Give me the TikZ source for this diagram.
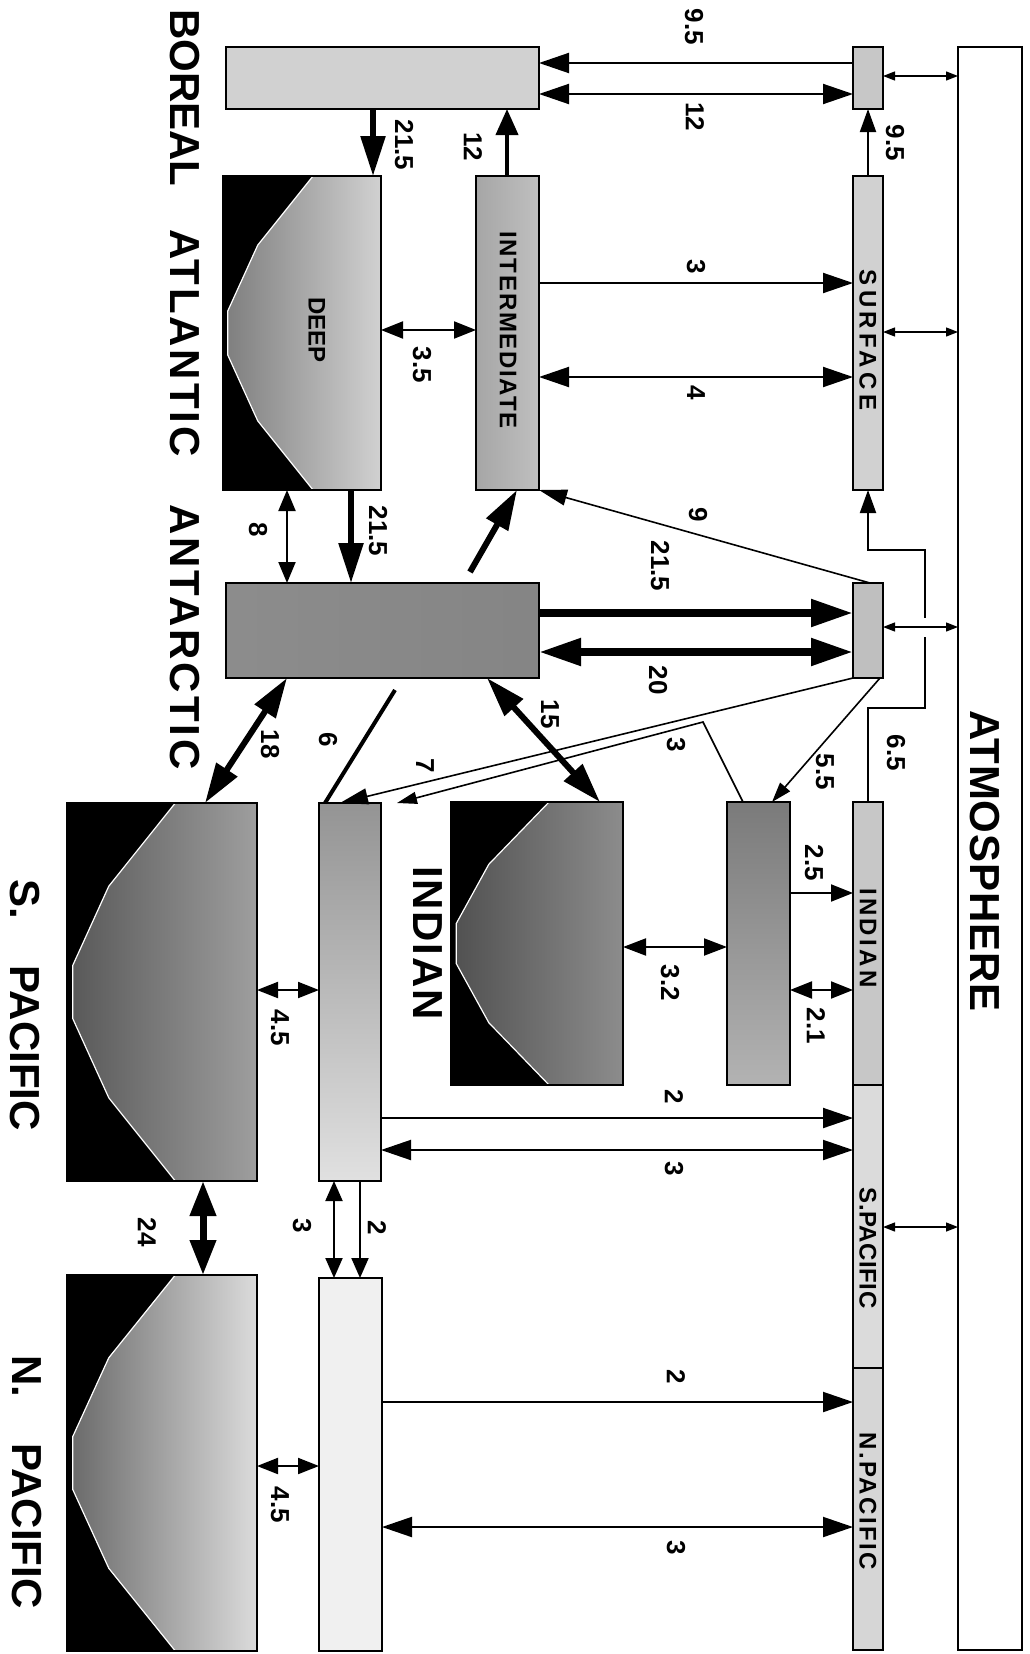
\documentclass[tikz,border=0pt]{standalone}
\usepackage{fontspec}
\setmainfont{Liberation Sans}
\usetikzlibrary{arrows.meta}
\tikzset{
  boxframe/.style={draw=black,line width=2.2pt,inner sep=0pt,outer sep=0pt,rectangle},
  numlab/.style={rotate=-90,inner sep=0pt,font=\fontsize{26}{26}\selectfont\bfseries},
  boxlab/.style={rotate=-90,inner sep=0pt,font=\fontsize{24}{24}\selectfont\bfseries},
  biglab/.style={rotate=-90,inner sep=0pt,font=\fontsize{42}{42}\selectfont\bfseries},
  fl/.style n args={3}{line width=#1,-{Triangle[length=#2,width=#3]}},
  dfl/.style n args={3}{line width=#1,{Triangle[length=#2,width=#3]}-{Triangle[length=#2,width=#3]}},
  atmo/.style={line width=1.3pt,{Triangle[length=12pt,width=9pt]}-{Triangle[length=12pt,width=9pt]}},
}
\newcommand\plainbox[6]{\node[boxframe,minimum width={#4-#2},minimum height={#5-#3},#6] (#1) at ({(#2+#4)/2},{(#3+#5)/2}) {};}
\newcommand\deepbox[7]{%
  \fill[black] (#2,#3) rectangle (#4,#5);
  \shadedraw[left color=#6,right color=#7,draw=white,line width=1.2pt]
    ({#2+0.57*(#4-#2)},#3) -- ({#2+0.22*(#4-#2)},{#3+0.22*(#5-#3)}) --
    ({#2+0.03*(#4-#2)},{#3+0.43*(#5-#3)}) -- ({#2+0.03*(#4-#2)},{#3+0.57*(#5-#3)}) --
    ({#2+0.22*(#4-#2)},{#3+0.78*(#5-#3)}) -- ({#2+0.57*(#4-#2)},#5) -- (#4,#5) -- (#4,#3) -- cycle;
  \node[boxframe,minimum width={#4-#2},minimum height={#5-#3}] (#1) at ({(#2+#4)/2},{(#3+#5)/2}) {};}
\begin{document}
\begin{tikzpicture}[x=1pt,y=-1pt]
\useasboundingbox (0,0) rectangle (1029,1654);
\fill[white] (0,0) rectangle (1029,1654);
% ---------- boxes ----------
\plainbox{atm}{958}{47}{1022}{1650}{fill=white}
\plainbox{bor}{226}{47}{539}{109}{fill=black!18}
\plainbox{sbo}{853}{47}{883}{109}{fill=black!22}
\plainbox{sur}{853}{176}{883}{490}{fill=black!18}
\plainbox{int}{476}{176}{539}{490}{left color=black!35,right color=black!25}
\deepbox{deepA}{223}{176}{381}{490}{black!50}{black!18}
\plainbox{ant}{226}{583}{539}{678}{left color=black!45,middle color=black!28,right color=black!48}
\plainbox{sant}{853}{583}{883}{678}{fill=black!25}
\plainbox{isurf}{853}{802}{883}{1085}{fill=black!22}
\plainbox{spsurf}{853}{1085}{883}{1368}{fill=black!14}
\plainbox{npsurf}{853}{1368}{883}{1650}{fill=black!16}
\plainbox{indint}{727}{802}{790}{1085}{top color=black!52,bottom color=black!30}
\deepbox{inddeep}{451}{802}{623}{1085}{black!68}{black!45}
\plainbox{spint}{319}{803}{381}{1181}{top color=black!42,bottom color=black!12}
\deepbox{spdeep}{67}{803}{257}{1181}{black!65}{black!38}
\plainbox{npint}{319}{1278}{382}{1651}{fill=black!6}
\deepbox{npdeep}{67}{1275}{257}{1651}{black!58}{black!14}
% ---------- box labels ----------
\node[boxlab,font=\fontsize{24}{24}\selectfont\bfseries\addfontfeature{LetterSpace=18}] (tsur) at (868,340) {SURFACE};
\node[boxlab,font=\fontsize{24}{24}\selectfont\bfseries\addfontfeature{LetterSpace=7}] (tint) at (508,330) {INTERMEDIATE};
\node[boxlab] (tdeep) at (317,330) {DEEP};
\node[boxlab,font=\fontsize{24}{24}\selectfont\bfseries\addfontfeature{LetterSpace=14}] (tisurf) at (868,938) {INDIAN};
\node[boxlab,font=\fontsize{24}{24}\selectfont\bfseries\addfontfeature{LetterSpace=2}] (tspsurf) at (868,1248) {S.PACIFIC};
\node[boxlab,font=\fontsize{24}{24}\selectfont\bfseries\addfontfeature{LetterSpace=10}] (tnpsurf) at (868,1501) {N.PACIFIC};
% ---------- big labels ----------
\node[biglab,font=\fontsize{42}{42}\selectfont\bfseries\addfontfeature{LetterSpace=2}] (tatm) at (985,861) {ATMOSPHERE};
\node[biglab] (tbor) at (185,98) {BOREAL};
\node[biglab,font=\fontsize{42}{42}\selectfont\bfseries\addfontfeature{LetterSpace=7}] (tatl) at (185,343) {ATLANTIC};
\node[biglab,font=\fontsize{42}{42}\selectfont\bfseries\addfontfeature{LetterSpace=7}] (tantl) at (185,637) {ANTARCTIC};
\node[biglab,font=\fontsize{42}{42}\selectfont\bfseries\addfontfeature{LetterSpace=4}] (tind) at (428,943) {INDIAN};
\node[biglab] (tspac) at (25,1005) {S.\hspace{47pt}PACIFIC};
\node[biglab] (tnpac) at (27,1482) {N.\hspace{46pt}PACIFIC};
% ---------- Boreal / Atlantic connectors ----------
\draw[fl={2pt}{30pt}{20pt}] (sbo.west |- 0,63) -- (bor.east |- 0,63);
\draw[dfl={2pt}{30pt}{20pt}] (bor.east |- 0,94) -- (sbo.west |- 0,94);
\draw[atmo] (sbo.east |- 0,76) -- (atm.west |- 0,76);
\draw[fl={2pt}{23pt}{16pt}] (sur.north -| 868,0) -- (sbo.south -| 868,0);
\draw[fl={4pt}{26pt}{22pt}] (int.north -| 507,0) -- (bor.south -| 507,0);
\draw[fl={5.5pt}{40pt}{24pt}] (bor.south -| 373,0) -- (deepA.north -| 373,0);
\draw[fl={2pt}{30pt}{20pt}] (int.east |- 0,283) -- (sur.west |- 0,283);
\draw[dfl={2pt}{30pt}{20pt}] (int.east |- 0,377) -- (sur.west |- 0,377);
\draw[atmo] (sur.east |- 0,332) -- (atm.west |- 0,332);
\draw[dfl={2pt}{22pt}{17pt}] (deepA.east |- 0,330) -- (int.west |- 0,330);
% ---------- Antarctic connectors ----------
\draw[dfl={2pt}{21pt}{17pt}] (deepA.south -| 287,0) -- (ant.north -| 287,0);
\draw[fl={5.5pt}{40pt}{24pt}] (deepA.south -| 351,0) -- (ant.north -| 351,0);
\coordinate (antup) at (470,572);
\draw[fl={6pt}{40pt}{24pt}] (antup) -- (int.south -| 517,0);
\draw[fl={8pt}{42pt}{26pt}] (ant.east |- 0,613) -- (sant.west |- 0,613);
\draw[dfl={8pt}{42pt}{26pt}] (ant.east |- 0,652) -- (sant.west |- 0,652);
\draw[fl={1.6pt}{28pt}{16pt}] (sant.north -| 870,0) -- (int.south east);
\draw[fl={2pt}{23pt}{16pt}] (isurf.north -| 868,0) -- (868,708) -- (925,708) -- (925,550) -- (868,550) -- (sur.south -| 868,0);
\fill[white] (920,618) rectangle (930,637);
\draw[atmo] (sant.east |- 0,627) -- (atm.west |- 0,627);
\draw[fl={1.6pt}{20pt}{13pt}] (sant.south -| 880,0) -- (indint.north -| 772,0);
\draw[fl={1.6pt}{28pt}{16pt}] (sant.south west) -- (spint.north -| 340,0);
\draw[fl={1.6pt}{20pt}{12pt}] (indint.north -| 743,0) -- (703,722) -- (spint.north -| 397,0);
\draw[dfl={6pt}{40pt}{24pt}] (ant.south -| 487,0) -- (inddeep.north -| 600,0);
\draw[dfl={6pt}{40pt}{24pt}] (ant.south -| 287,0) -- (spdeep.north -| 205,0);
\coordinate (sixst) at (395,690);
\draw[line width=4pt] (sixst) -- (spint.north -| 325,0);
% ---------- Indian connectors ----------
\draw[dfl={2pt}{23pt}{17pt}] (inddeep.east |- 0,947) -- (indint.west |- 0,947);
\draw[fl={2pt}{22pt}{17pt}] (indint.east |- 0,893) -- (isurf.west |- 0,893);
\draw[dfl={2pt}{22pt}{17pt}] (indint.east |- 0,990) -- (isurf.west |- 0,990);
\draw[atmo] (spsurf.east |- 0,1227) -- (atm.west |- 0,1227);
% ---------- Pacific connectors ----------
\draw[dfl={2pt}{21pt}{16pt}] (spdeep.east |- 0,990) -- (spint.west |- 0,990);
\draw[fl={2pt}{30pt}{20pt}] (spint.east |- 0,1118) -- (spsurf.west |- 0,1118);
\draw[dfl={2pt}{30pt}{20pt}] (spint.east |- 0,1150) -- (spsurf.west |- 0,1150);
\draw[dfl={7pt}{35pt}{25pt}] (spdeep.south -| 203,0) -- (npdeep.north -| 203,0);
\draw[dfl={2pt}{20pt}{17pt}] (spint.south -| 334,0) -- (npint.north -| 334,0);
\draw[fl={2pt}{20pt}{17pt}] (spint.south -| 360,0) -- (npint.north -| 360,0);
\draw[dfl={2pt}{21pt}{16pt}] (npdeep.east |- 0,1466) -- (npint.west |- 0,1466);
\draw[fl={2pt}{30pt}{20pt}] (npint.east |- 0,1402) -- (npsurf.west |- 0,1402);
\draw[dfl={2pt}{30pt}{20pt}] (npint.east |- 0,1527) -- (npsurf.west |- 0,1527);
% ---------- numbers ----------
\node[numlab] (n1) at (694,27) {9.5};
\node[numlab] (n2) at (695,117) {12};
\node[numlab] (n3) at (895,143) {9.5};
\node[numlab] (n4) at (473,147) {12};
\node[numlab] (n5) at (404,145) {21.5};
\node[numlab] (n6) at (696,267) {3};
\node[numlab] (n7) at (696,393) {4};
\node[numlab] (n8) at (422,365) {3.5};
\node[numlab] (n9) at (258,530) {8};
\node[numlab] (n10) at (378,531) {21.5};
\node[numlab] (n11) at (698,515) {9};
\node[numlab] (n12) at (660,566) {21.5};
\node[numlab] (n13) at (658,680) {20};
\node[numlab] (n14) at (550,714) {15};
\node[numlab] (n15) at (676,745) {3};
\node[numlab] (n16) at (896,753) {6.5};
\node[numlab] (n17) at (825,772) {5.5};
\node[numlab] (n18) at (270,744) {18};
\node[numlab] (n19) at (328,740) {6};
\node[numlab] (n20) at (425,766) {7};
\node[numlab] (n21) at (814,863) {2.5};
\node[numlab] (n22) at (670,983) {3.2};
\node[numlab] (n23) at (816,1026) {2.1};
\node[numlab] (n24) at (280,1028) {4.5};
\node[numlab] (n25) at (674,1097) {2};
\node[numlab] (n26) at (674,1169) {3};
\node[numlab] (n27) at (147,1232) {24};
\node[numlab] (n28) at (302,1226) {3};
\node[numlab] (n29) at (377,1228) {2};
\node[numlab] (n30) at (676,1377) {2};
\node[numlab] (n31) at (280,1505) {4.5};
\node[numlab] (n32) at (676,1548) {3};
\end{tikzpicture}
\end{document}
